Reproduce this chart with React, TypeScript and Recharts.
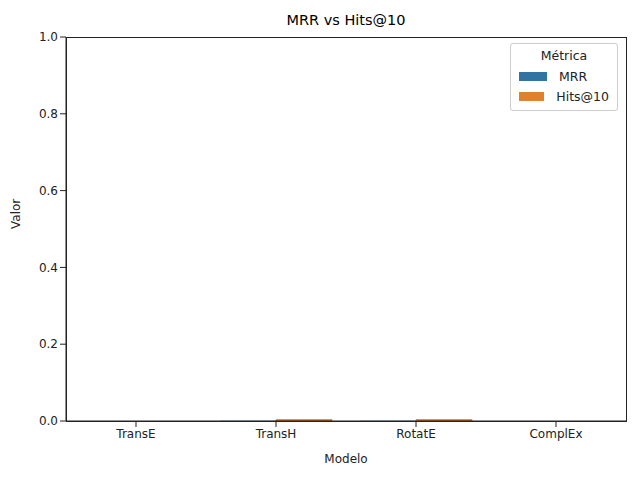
import { BarChart, Bar, XAxis, YAxis } from 'recharts'

const modelos = ['TransE', 'TransH', 'RotatE', 'ComplEx']
const mrr = [0.0, 0.0005, 0.0005, 0.0]
const hits10 = [0.0, 0.003, 0.003, 0.0]
const yTicks = [0, 0.2, 0.4, 0.6, 0.8, 1.0]

const data = modelos.map((m, i) => ({ modelo: m, MRR: mrr[i], 'Hits@10': hits10[i] }))

const font = 'DejaVu Sans, sans-serif'

const LegendBox = () => (
  <div style={{
    position: 'absolute', top: 43, left: 510,
    border: '1px solid #ccc', borderRadius: 3, background: 'white',
    padding: '4px 8px', fontFamily: font, fontSize: 12.5, color: '#222', width: 90,
  }}>
    <div style={{ textAlign: 'center', marginBottom: 3 }}>Métrica</div>
    {[['MRR', '#3274a1'], ['Hits@10', '#e1812c']].map(([n, c]) => (
      <div key={n} style={{ display: 'flex', alignItems: 'center', height: 20 }}>
        <span style={{ width: 28, height: 9, background: c, marginRight: 12 }} />
        {n}
      </div>
    ))}
  </div>
)

export default function App() {
  return (
    <div style={{ position: 'absolute', left: 0, top: 0, width: 640, height: 480, background: 'white' }}>
      <div style={{ position: 'absolute', top: 12, left: 66, width: 560, textAlign: 'center', fontFamily: font, fontSize: 14.5 }}>
        MRR vs Hits@10
      </div>
      <BarChart
        width={640}
        height={480}
        data={data}
        margin={{ top: 37, right: 14, bottom: 29, left: 16 }}
        barCategoryGap="10%"
        barGap={0}
      >
        <XAxis
          dataKey="modelo"
          height={30}
          tick={{ fill: '#222', fontSize: 12, fontFamily: font }}
          tickLine={{ stroke: '#222' }}
          axisLine={{ stroke: '#222' }}
          label={{ value: 'Modelo', position: 'insideBottom', offset: -12, fill: '#222', fontSize: 12, fontFamily: font }}
        />
        <YAxis
          width={50}
          domain={[0, 1]}
          ticks={yTicks}
          tickFormatter={(v: number) => v.toFixed(1)}
          tick={{ fill: '#222', fontSize: 12, fontFamily: font }}
          tickLine={{ stroke: '#222' }}
          axisLine={{ stroke: '#222' }}
          label={{ value: 'Valor', angle: -90, position: 'insideLeft', offset: 0, fill: '#222', fontSize: 12, fontFamily: font }}
        />
        <Bar dataKey="MRR" fill="#3274a1" isAnimationActive={false} />
        <Bar dataKey="Hits@10" fill="#e1812c" stroke="#c46a1c" isAnimationActive={false} />
      </BarChart>
      <div style={{ position: 'absolute', left: 66, top: 37, width: 559, height: 383, border: '1px solid #222', pointerEvents: 'none' }} />
      <LegendBox />
    </div>
  )
}
